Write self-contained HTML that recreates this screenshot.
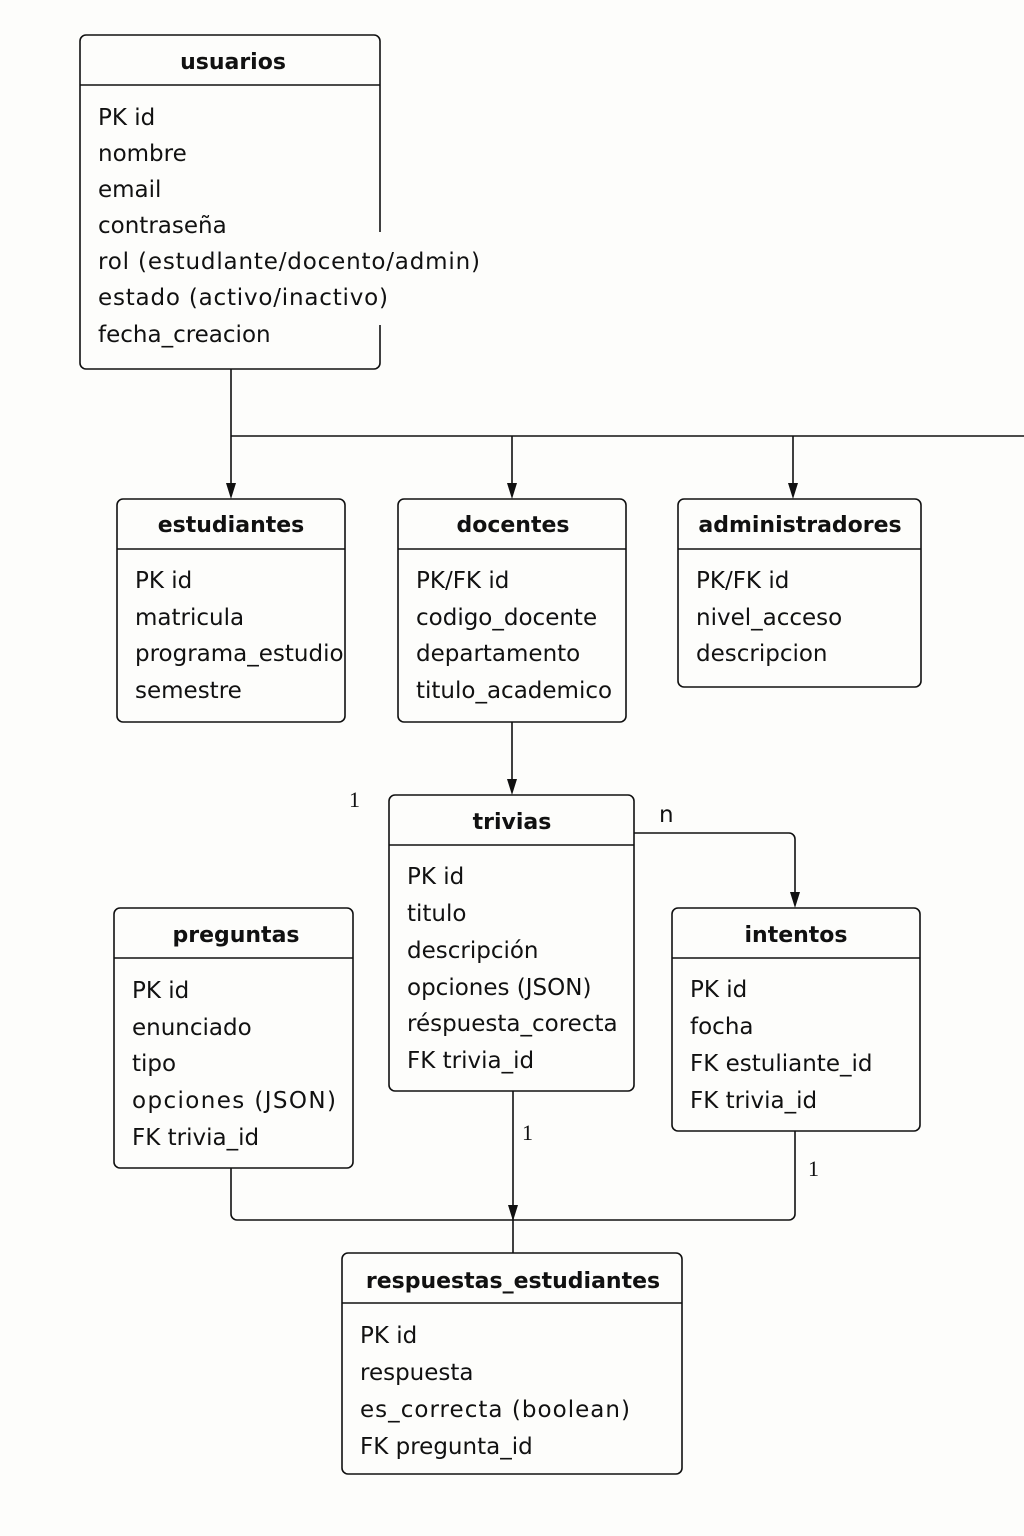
<!DOCTYPE html>
<html><head><meta charset="utf-8"><style>
html,body{margin:0;padding:0;background:#fdfdfb;}
svg{display:block}
text{font-family:"DejaVu Sans","Liberation Sans",sans-serif;fill:#111;}
.t{font-size:22px;font-weight:bold;text-anchor:middle}
.r{font-size:23px}
.n{font-family:"Liberation Serif","DejaVu Serif",serif;font-size:22px}
</style></head><body>
<svg width="1024" height="1536" viewBox="0 0 1024 1536" xmlns="http://www.w3.org/2000/svg">
<g fill="none" stroke="#111" stroke-width="1.6">
<path d="M380,232 V41 a6,6 0 0 0 -6,-6 H86 a6,6 0 0 0 -6,6 V363 a6,6 0 0 0 6,6 H374 a6,6 0 0 0 6,-6 V325"/>
<line x1="80" y1="85" x2="380" y2="85"/>
<rect x="117" y="499" width="228" height="223" rx="6"/><line x1="117" y1="549" x2="345" y2="549"/>
<rect x="398" y="499" width="228" height="223" rx="6"/><line x1="398" y1="549" x2="626" y2="549"/>
<rect x="678" y="499" width="243" height="188" rx="6"/><line x1="678" y1="549" x2="921" y2="549"/>
<rect x="389" y="795" width="245" height="296" rx="6"/><line x1="389" y1="845" x2="634" y2="845"/>
<rect x="114" y="908" width="239" height="260" rx="6"/><line x1="114" y1="958" x2="353" y2="958"/>
<rect x="672" y="908" width="248" height="223" rx="6"/><line x1="672" y1="958" x2="920" y2="958"/>
<rect x="342" y="1253" width="340" height="221" rx="6"/><line x1="342" y1="1303" x2="682" y2="1303"/>
<line x1="231" y1="369" x2="231" y2="484"/>
<line x1="231" y1="436" x2="1024" y2="436"/>
<line x1="512" y1="436" x2="512" y2="484"/>
<line x1="793" y1="436" x2="793" y2="484"/>
<line x1="512" y1="722" x2="512" y2="780"/>
<path d="M634,833 H789 a6,6 0 0 1 6,6 V893"/>
<line x1="513" y1="1091" x2="513" y2="1253"/>
<path d="M231,1168 V1214 a6,6 0 0 0 6,6 H789 a6,6 0 0 0 6,-6 V1131"/>
</g>
<g fill="#111">
<path d="M226,483 L236,483 L231,499 Z"/>
<path d="M507,483 L517,483 L512,499 Z"/>
<path d="M788,483 L798,483 L793,499 Z"/>
<path d="M507,779 L517,779 L512,795 Z"/>
<path d="M790,892 L800,892 L795,908 Z"/>
<path d="M508,1205 L518,1205 L513,1221 Z"/>
</g>
<text class="t" x="233" y="69">usuarios</text>
<g class="r">
<text x="98" y="125">PK id</text><text x="98" y="161">nombre</text><text x="98" y="197">email</text><text x="98" y="233">contraseña</text>
<text x="98" y="269" textLength="382" lengthAdjust="spacing">rol (estudlante/docento/admin)</text><text x="98" y="305" textLength="290" lengthAdjust="spacing">estado (activo/inactivo)</text><text x="98" y="342">fecha_creacion</text>
</g>
<text class="t" x="231" y="532">estudiantes</text>
<g class="r"><text x="135" y="588">PK id</text><text x="135" y="625">matricula</text><text x="135" y="661">programa_estudio</text><text x="135" y="698">semestre</text></g>
<text class="t" x="513" y="532">docentes</text>
<g class="r"><text x="416" y="588">PK/FK id</text><text x="416" y="625">codigo_docente</text><text x="416" y="661">departamento</text><text x="416" y="698">titulo_academico</text></g>
<text class="t" x="800" y="532">administradores</text>
<g class="r"><text x="696" y="588">PK/FK id</text><text x="696" y="625">nivel_acceso</text><text x="696" y="661">descripcion</text></g>
<text class="t" x="512" y="829">trivias</text>
<g class="r"><text x="407" y="884">PK id</text><text x="407" y="921">titulo</text><text x="407" y="958">descripción</text><text x="407" y="995">opciones (JSON)</text><text x="407" y="1031">réspuesta_corecta</text><text x="407" y="1068">FK trivia_id</text></g>
<text class="t" x="236" y="942">preguntas</text>
<g class="r"><text x="132" y="998">PK id</text><text x="132" y="1035">enunciado</text><text x="132" y="1071">tipo</text><text x="132" y="1108" textLength="204" lengthAdjust="spacing">opciones (JSON)</text><text x="132" y="1145">FK trivia_id</text></g>
<text class="t" x="796" y="942">intentos</text>
<g class="r"><text x="690" y="997">PK id</text><text x="690" y="1034">focha</text><text x="690" y="1071">FK estuliante_id</text><text x="690" y="1108">FK trivia_id</text></g>
<text class="t" x="513" y="1288">respuestas_estudiantes</text>
<g class="r"><text x="360" y="1343">PK id</text><text x="360" y="1380">respuesta</text><text x="360" y="1417" textLength="270" lengthAdjust="spacing">es_correcta (boolean)</text><text x="360" y="1454">FK pregunta_id</text></g>
<text class="n" x="349" y="807">1</text>
<text class="r" x="659" y="822">n</text>
<text class="n" x="522" y="1140">1</text>
<text class="n" x="808" y="1176">1</text>
</svg>
</body></html>
